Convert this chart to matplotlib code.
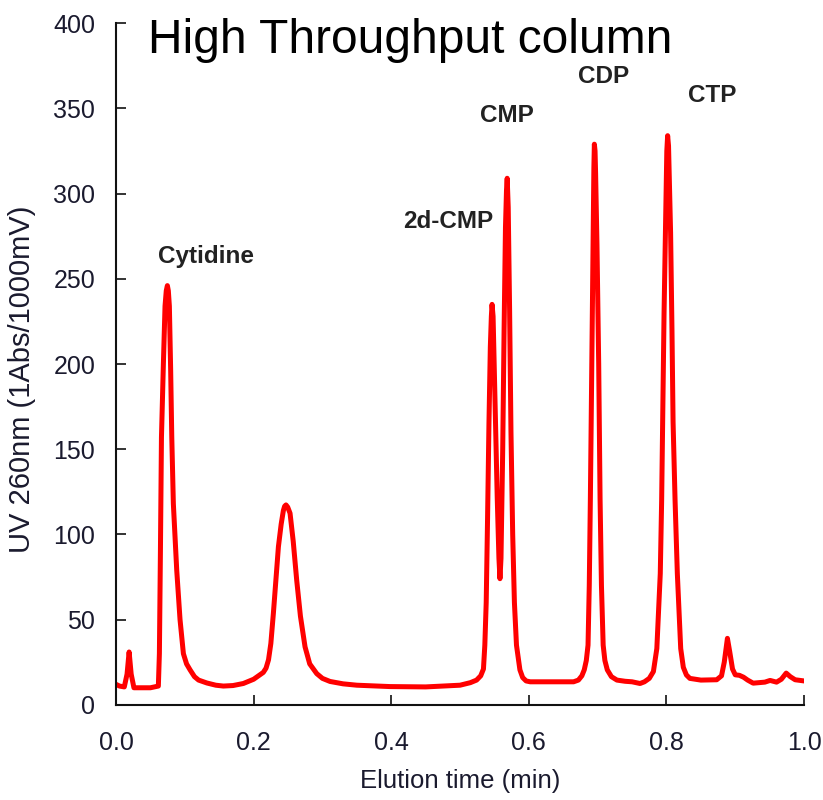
import matplotlib
matplotlib.use("Agg")
import matplotlib.pyplot as plt

plt.rcParams['font.family'] = ['Liberation Sans', 'DejaVu Sans']

# Chromatogram trace (time in min, UV signal)
time_min = [
    0.000, 0.005, 0.012, 0.016, 0.019, 0.022, 0.026, 0.035, 0.050, 0.0615,
    0.0630, 0.0645, 0.066, 0.0688, 0.0712, 0.0730, 0.0746, 0.0760, 0.0775, 0.0794,
    0.081, 0.0833, 0.0882, 0.093, 0.0979, 0.1025, 0.1076, 0.114, 0.120, 0.132,
    0.145, 0.156, 0.170, 0.185, 0.200, 0.214, 0.218, 0.2216, 0.2250, 0.2287,
    0.236, 0.2400, 0.2432, 0.2450, 0.247, 0.2495, 0.2529, 0.2575, 0.2626, 0.268,
    0.2747, 0.2815, 0.2917, 0.300, 0.311, 0.330, 0.350, 0.398, 0.450, 0.500,
    0.515, 0.524, 0.530, 0.534, 0.536, 0.538, 0.540, 0.542, 0.544, 0.5455,
    0.5465, 0.548, 0.551, 0.554, 0.5565, 0.558, 0.5595, 0.562, 0.564, 0.566,
    0.5675, 0.5685, 0.570, 0.572, 0.574, 0.5765, 0.579, 0.582, 0.587, 0.591,
    0.596, 0.602, 0.640, 0.665, 0.672, 0.677, 0.6805, 0.6835, 0.686, 0.6878,
    0.6894, 0.6915, 0.6935, 0.6945, 0.6952, 0.6962, 0.697, 0.699, 0.7015, 0.7035,
    0.7055, 0.708, 0.7105, 0.714, 0.720, 0.728, 0.740, 0.750, 0.7616, 0.768,
    0.775, 0.781, 0.786, 0.7885, 0.791, 0.793, 0.7945, 0.7965, 0.7985, 0.8005,
    0.8017, 0.803, 0.806, 0.808, 0.8096, 0.8125, 0.8158, 0.8185, 0.8207, 0.8245,
    0.829, 0.834, 0.850, 0.873, 0.880, 0.884, 0.8886, 0.892, 0.896, 0.900,
    0.906, 0.912, 0.918, 0.926, 0.935, 0.943, 0.9506, 0.960, 0.967, 0.974,
    0.980, 0.987, 1.000,
]
uv_signal = [
    12.0, 11.0, 10.5, 18.0, 31.0, 18.0, 10.0, 10.0, 10.0, 11.0,
    30.0, 90.0, 157.0, 200.0, 234.0, 243.0, 246.0, 243.0, 234.0, 196.0,
    157.0, 118.0, 79.0, 50.0, 30.0, 24.0, 20.5, 16.5, 14.5, 12.8,
    11.5, 11.0, 11.3, 12.5, 15.0, 19.0, 21.5, 26.4, 36.0, 53.8,
    92.8, 106.0, 114.0, 116.5, 117.3, 116.0, 112.4, 96.0, 73.0, 52.0,
    34.0, 24.0, 18.3, 15.5, 13.7, 12.3, 11.5, 10.7, 10.5, 11.5,
    13.0, 14.5, 17.0, 21.0, 35.0, 60.0, 110.0, 165.0, 210.0, 228.0,
    235.0, 228.0, 175.0, 122.0, 86.0, 74.0, 86.0, 150.0, 220.0, 280.0,
    302.0, 309.0, 292.0, 232.0, 160.0, 100.0, 60.0, 35.0, 20.5, 16.0,
    14.0, 13.5, 13.5, 13.5, 14.5, 17.0, 20.5, 26.0, 35.0, 70.0,
    121.0, 200.0, 272.0, 315.0, 329.0, 325.0, 312.0, 270.0, 200.0, 121.0,
    70.0, 35.0, 26.0, 20.5, 16.5, 14.5, 13.8, 13.5, 12.5, 13.5,
    15.5, 19.5, 33.0, 55.0, 77.0, 120.0, 166.0, 230.0, 277.0, 325.0,
    334.0, 328.0, 277.0, 220.0, 166.0, 120.0, 77.0, 52.0, 33.0, 22.0,
    17.5, 15.5, 14.5, 14.7, 17.0, 25.0, 39.0, 31.0, 21.0, 17.6,
    17.3, 16.2, 14.5, 12.7, 13.0, 13.3, 14.3, 13.3, 15.0, 18.6,
    16.5, 14.7, 14.0,
]

peak_names = ["Cytidine", "2d-CMP", "CMP", "CDP", "CTP"]
label_xy = [(0.131, 259), (0.4826, 280), (0.5683, 342), (0.709, 365), (0.866, 354)]

fig = plt.figure(figsize=(8.23, 8.0), dpi=100)
ax = fig.add_axes([0.141, 0.119, 0.836, 0.852])

ax.plot(time_min, uv_signal, color='#ff0000', linewidth=3.6,
        solid_joinstyle='round', solid_capstyle='round')

for name, (lx, ly) in zip(peak_names, label_xy):
    ax.text(lx, ly, name, ha='center', va='baseline', fontsize=17.5,
            fontweight='bold', color='#222222')

ax.set_xlim(0, 1.0)
ax.set_ylim(0, 400)
ax.set_xticks([0.0, 0.2, 0.4, 0.6, 0.8, 1.0])
ax.set_xticklabels(['0.0', '0.2', '0.4', '0.6', '0.8', '1.0'])
ax.set_yticks(range(0, 401, 50))

for s in ['top', 'right']:
    ax.spines[s].set_visible(False)
for s in ['left', 'bottom']:
    ax.spines[s].set_linewidth(1.5)
    ax.spines[s].set_color('#111111')

ax.tick_params(direction='in', length=7, width=1.2, colors='#111111',
               labelsize=18, labelcolor='#1a1a2e')
ax.tick_params(axis='y', pad=15)
ax.tick_params(axis='x', pad=19)

ax.set_xlabel("Elution time (min)", fontsize=18.5, color='#1a1a2e')
ax.set_ylabel("UV 260nm (1Abs/1000mV)", fontsize=21, color='#1a1a2e')
ax.xaxis.set_label_coords(0.5, -0.094)
ax.yaxis.set_label_coords(-0.117, 0.477)

fig.text(0.18, 0.934, "High Throughput column", fontsize=34.5, color='black',
         ha='left', va='baseline')

fig.savefig("out.png", dpi=100)
